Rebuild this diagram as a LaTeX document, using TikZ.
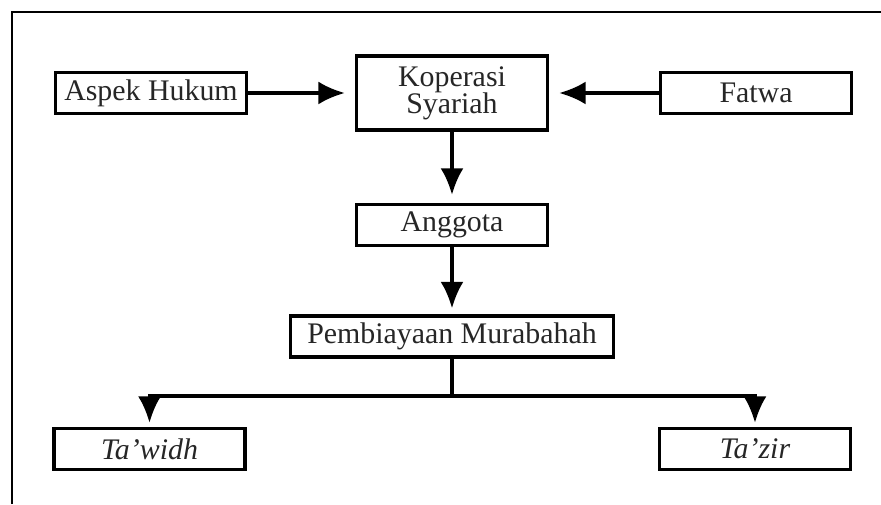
\documentclass[tikz,border=0pt]{standalone}
\usepackage{fontspec}
\setmainfont{Liberation Serif}
\usetikzlibrary{arrows.meta}
\begin{document}
\begin{tikzpicture}[
  box/.style={draw, line width=1.9pt, minimum width=3.82cm, minimum height=0.82cm,
    inner sep=2pt, align=center, text=black!85, font=\fontsize{17}{15.5}\selectfont},
  flow/.style={line width=1.9pt, -{Latex[length=15pt,width=13pt]}}]
\useasboundingbox (0,0) rectangle (17.62,10.08);
% frame
\draw[line width=1.2pt] (0.24,0) -- (0.24,9.84) -- (17.62,9.84);
% boxes
\node[box] (aspek) at (3.02,8.22) {Aspek Hukum};
\node[box, minimum height=1.48cm] (koperasi) at (9.04,8.22) {Koperasi\\Syariah};
\node[box] (fatwa) at (15.12,8.22) {Fatwa};
\node[box] (anggota) at (9.04,5.58) {Anggota};
\node[box, minimum width=6.46cm] (murabahah) at (9.04,3.35) {Pembiayaan Murabahah};
\node[box] (tawidh) at (2.99,1.10) {\textit{Ta'widh}};
\node[box] (tazir) at (15.10,1.10) {\textit{Ta'zir}};
% arrows
\draw[flow, shorten >=0.2cm] (aspek) -- (koperasi);
\draw[flow, shorten >=0.2cm] (fatwa) -- (koperasi);
\draw[flow, shorten >=0.16cm] (koperasi) -- (anggota);
\draw[flow, shorten >=0.12cm] (anggota) -- (murabahah);
\coordinate (split) at (9.04,2.16);
\draw[line width=1.9pt] (murabahah) -- (split);
\draw[flow, shorten >=0.08cm] (split) -| (tawidh);
\draw[flow, shorten >=0.08cm] (split) -| (tazir);
\end{tikzpicture}
\end{document}
